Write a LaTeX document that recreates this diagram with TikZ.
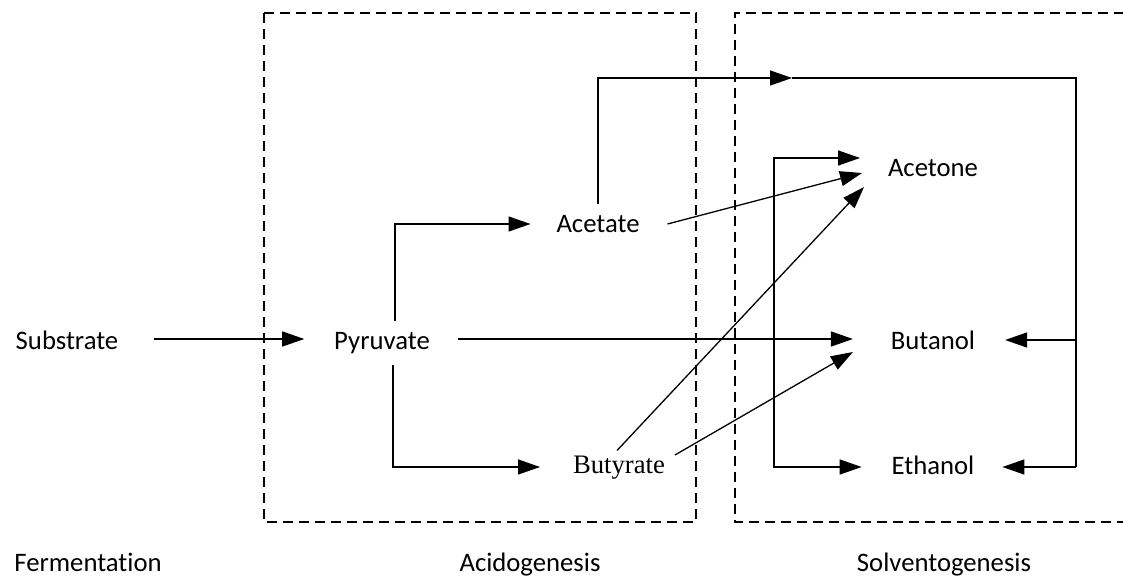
\documentclass[tikz,border=0pt]{standalone}
\usepackage{fontspec}
\setmainfont{Carlito}[Ligatures=NoCommon]
\newfontfamily\serifface{Liberation Serif}
\usepackage{tikz}
\usetikzlibrary{arrows.meta}

\begin{document}
\begin{tikzpicture}[x=1pt, y=-1pt,
  stage/.style={inner sep=0pt, outer sep=0pt, text height=20pt, text depth=3pt, font=\fontsize{26.7}{32}\selectfont},
  phase/.style={draw, line width=1.2pt, dash pattern=on 10pt off 6pt},
  flow/.style={line width=1.3pt, -{Triangle[length=22pt, width=15pt]}},
  link/.style={line width=1.3pt}]
\useasboundingbox (0,0) rectangle (1123,577);

\draw[phase] (264,13) rectangle (696,522);
\draw[phase] (1140,13) -- (735,13) -- (735,522) -- (1140,522);

\node[stage] (sub) at (67,341) {Substrate};
\node[stage] (pyr) at (382,341) {Pyruvate};
\node[stage] (ace) at (598,224) {Acetate};
\node[stage, font=\fontsize{26.7}{32}\selectfont\serifface] (but) at (619,465) {Butyrate};
\node[stage] (acn) at (933,168) {Acetone};
\node[stage] (btl) at (933,341) {Butanol};
\node[stage] (eth) at (933,466) {Ethanol};

\node[stage] (ferm) at (88,563) {Fermentation};
\node[stage] (acid) at (530,563) {Acidogenesis};
\node[stage] (solv) at (944,563) {Solventogenesis};

\coordinate (mid) at (792,78);
\coordinate (topR) at (1076,78);
\coordinate (rBtl) at (1076,340);
\coordinate (rEth) at (1076,467);
\coordinate (lEth) at (774,467);

\draw[flow] ([shift={(36,-2)}]sub.east) -- ([shift={(-30,-2)}]pyr.west);
\draw[flow] ([shift={(13,-9)}]pyr.north) |- ([shift={(-26,0)}]ace.west);
\draw[flow] ([shift={(11,12)}]pyr.south) |- ([shift={(-33,2)}]but.west);
\draw[flow] ([shift={(28,-2)}]pyr.east) -- ([shift={(-38,-2)}]btl.west);

\draw[flow] ([shift={(0,-8)}]ace.north) |- (mid);
\draw[link] (mid) -- (topR) -- (rEth);
\draw[flow] (rBtl) -- ([shift={(30,-1)}]btl.east);
\draw[flow] (rEth) -- ([shift={(28,1)}]eth.east);

\draw[flow, {Triangle[length=22pt, width=15pt]}-{Triangle[length=22pt, width=15pt]}] ([shift={(-28,-10)}]acn.west) -| (lEth) -- ([shift={(-30,1)}]eth.west);

\draw[flow] ([shift={(28,0)}]ace.east) -- ([shift={(-26,5)}]acn.west);
\draw[flow] ([shift={(-2,-3)}]but.north) -- ([shift={(-24,19)}]acn.west);
\draw[flow] ([shift={(10,-10)}]but.east) -- ([shift={(-38,11)}]btl.west);
\end{tikzpicture}
\end{document}
